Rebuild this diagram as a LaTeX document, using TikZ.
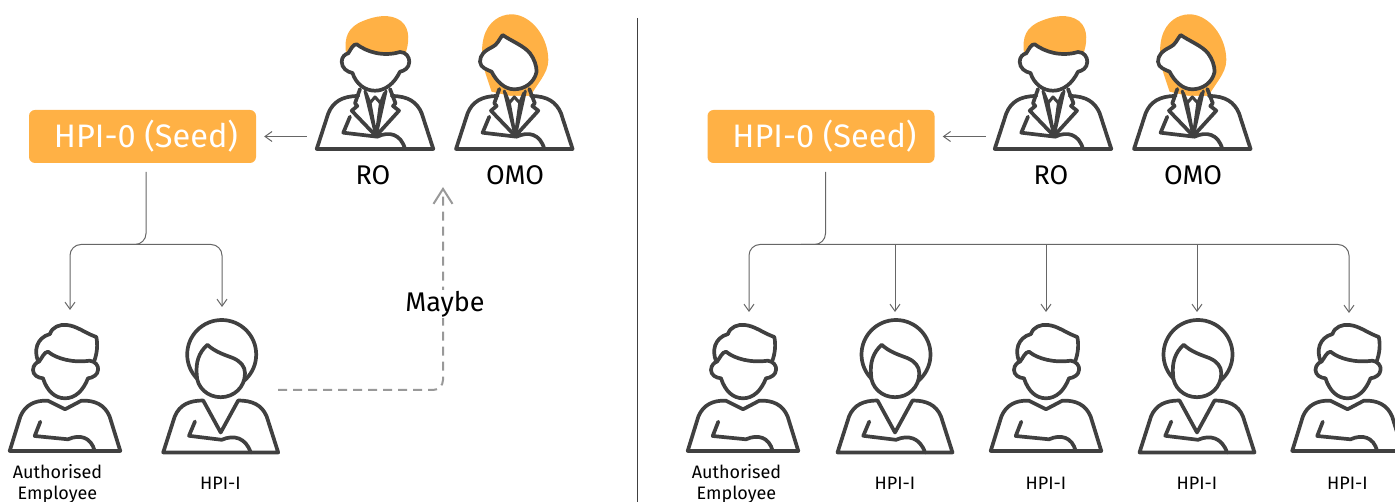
\documentclass[tikz,border=0pt]{standalone}
\usepackage{fontspec}
\setmainfont{Fira Sans}
\usetikzlibrary{arrows.meta}
\definecolor{seedorange}{HTML}{FFB145}
\definecolor{inkgrey}{HTML}{404040}
\definecolor{wiregrey}{HTML}{666666}
\definecolor{maybegrey}{HTML}{999999}
\tikzstyle{seedbox}=[fill=seedorange, rounded corners=6pt, text=white, minimum width=227pt, minimum height=53pt, inner sep=0pt, font=\fontsize{32.5}{34}\selectfont]
\tikzstyle{person}=[anchor=south, minimum width=110pt, minimum height=126pt, inner sep=0pt]
\tikzstyle{biglabel}=[font=\fontsize{27}{29}\selectfont]
\tikzstyle{smalllabel}=[font=\fontsize{18}{21}\selectfont, align=center]
\tikzstyle{wire}=[wiregrey, line width=1pt, rounded corners=11pt]
\tikzstyle{wirearrow}=[wire, -{Straight Barb[length=7pt, width=10pt]}]
\tikzstyle{maybearrow}=[maybegrey, line width=2pt, rounded corners=10pt, dash pattern=on 9pt off 6pt, -{Straight Barb[length=15pt, width=19pt]}]
\tikzstyle{outline}=[inkgrey, line width=3.7pt, line join=round, line cap=round]
\tikzset{
  plainbody/.pic={
    \draw[outline, fill=white] (-55.3,0) -- (-44.7,-34.3) .. controls (-40,-46) and (-30,-51) .. (-17,-50.3) -- (0,-41.7) -- (16.3,-50.3) .. controls (30,-51) and (40,-46) .. (44.7,-34.3) -- (55.3,0) -- cycle;
    \draw[outline] (-24.7,-29.3) -- (-30.3,-15) -- (3,-11.7) .. controls (15,-17) and (26,-14) .. (29.7,0);
  },
  vneckbody/.pic={
    \draw[outline, fill=white] (-57.5,0) -- (-46,-36) .. controls (-41,-48) and (-31,-52) .. (-17.5,-52) -- (0,-20) -- (17.5,-52) .. controls (31,-52) and (41,-48) .. (46,-36) -- (57.5,0) -- cycle;
    \draw[outline] (-25.7,-31) -- (-31.7,-16.7) -- (1,-12.7) .. controls (13,-18) and (25,-15) .. (30,0);
  },
  suitbody/.pic={
    \draw[outline, fill=white] (-16.7,-53) .. controls (-33,-53) and (-42,-47) .. (-46.7,-35.7) -- (-58.3,0) -- (58.3,0) -- (46.7,-35.7) .. controls (42,-47) and (33,-53) .. (16.7,-53);
    \draw[outline] (-15,-60) -- (-20,-45.7) -- (-17.7,-43) -- (-23.3,-38.3) -- (1,-13) -- (24,-38.3) -- (18,-43) -- (20.5,-45.7) -- (15,-60);
    \draw[outline, line width=3pt] (-10,-58) -- (1,-13) -- (11,-58);
    \draw[outline, line width=3pt] (-9,-56) -- (-5,-46) -- (0,-52) -- (5.5,-46) -- (9.5,-56);
    \draw[outline, line width=3pt] (-5,-46) -- (1,-13) -- (5.5,-46);
    \draw[outline] (-25,-32.3) -- (-31.7,-16.3) -- (2.3,-12.3) .. controls (14,-18) and (26,-15) .. (30,0);
  },
  shorthead/.pic={
    \filldraw[outline, fill=white] (-27,-90) .. controls (-31,-100) and (-29,-113) .. (-15,-117) .. controls (-13,-124) and (-5,-127) .. (2,-126) .. controls (12,-125) and (20,-118) .. (31.3,-114) .. controls (33,-106) and (32,-97) .. (29,-89.3);
    \filldraw[outline, fill=white] (-17,-99.3) .. controls (-8,-92) and (8,-88) .. (24.7,-90.3) .. controls (30,-90) and (34,-85) .. (33,-81) .. controls (33,-76) and (27,-73) .. (23,-72.7) .. controls (18,-60) and (10,-52.7) .. (0,-52.7) .. controls (-10,-52.7) and (-18,-60) .. (-22,-72.7) .. controls (-27,-73) and (-32,-76) .. (-32,-81) .. controls (-32,-86) and (-28,-89) .. (-26,-89.3) .. controls (-23,-93) and (-21,-99) .. (-17,-99.3) -- cycle;
  },
  roundhead/.pic={
    \filldraw[outline, fill=white] (1,-98) circle (34.5);
    \filldraw[outline, fill=white] (-13.3,-107.7) .. controls (-5,-100) and (6,-97) .. (12.7,-94.3) .. controls (20,-91) and (24.3,-86) .. (24.3,-79.3) .. controls (24.3,-65) and (13,-55.3) .. (0,-55.3) .. controls (-13,-55.3) and (-24,-65) .. (-24,-78) .. controls (-25,-90) and (-22,-100) .. (-13.3,-107.7) -- cycle;
  },
  orangeman/.pic={
    \fill[seedorange] (-29,-96) .. controls (-31,-112) and (-27,-122) .. (-12,-128) .. controls (0,-133) and (15,-136) .. (26,-128) .. controls (36,-120) and (34,-105) .. (30,-94) -- cycle;
    \pic {suitbody};
    \filldraw[outline, fill=white] (-18.3,-104.7) .. controls (-8,-97) and (8,-92) .. (25,-97) .. controls (31,-97) and (34.3,-92) .. (34.3,-87.3) .. controls (34.3,-81) and (29,-78) .. (25,-77.3) .. controls (19,-65) and (10,-58.3) .. (0,-58.3) .. controls (-10,-58.3) and (-19,-65) .. (-22.5,-76) .. controls (-28,-77) and (-33.3,-81) .. (-33.3,-87.3) .. controls (-33.3,-92) and (-30,-95) .. (-26.7,-95.7) .. controls (-24,-100) and (-22,-105) .. (-18.3,-104.7) -- cycle;
  },
  orangewoman/.pic={
    \fill[seedorange] (-22.7,-57.3) -- (-27.7,-72.3) .. controls (-34,-90) and (-34,-110) .. (-26,-122) .. controls (-18,-134) and (-5,-136) .. (3,-134) .. controls (20,-130) and (34,-110) .. (34,-89) .. controls (34,-75) and (22,-65) .. (14,-49) -- cycle;
    \pic {suitbody};
    \filldraw[outline, fill=white] (-11.7,-114) .. controls (-3,-108) and (10,-103) .. (15.7,-95.7) .. controls (20,-90) and (22.3,-83) .. (22.3,-77.3) .. controls (20,-66) and (10,-59.7) .. (0,-59.7) .. controls (-10,-59.7) and (-18,-68) .. (-22.7,-77.3) .. controls (-26,-79) and (-34.3,-81) .. (-34.3,-87.3) .. controls (-34.3,-94) and (-30,-98) .. (-22,-102) .. controls (-17,-104) and (-15,-110) .. (-11.7,-114) -- cycle;
  },
  manfig/.pic={\pic {plainbody}; \pic {shorthead};},
  womanfig/.pic={\pic {vneckbody}; \pic {roundhead};}
}

\begin{document}
\begin{tikzpicture}[x=1pt, y=-1pt]
\useasboundingbox (0,0) rectangle (1395,502);
% Divider
    \coordinate (divtop) at (637,18);
    \coordinate (divbot) at (637,502);
    \draw[inkgrey, line width=1pt] (divtop) -- (divbot);
% Seed boxes
    \node[seedbox] (seedL) at (142.5,136.5) {\hspace*{7pt}HPI-0 (Seed)};
    \node[seedbox] (seedR) at (821,136.5) {\hspace*{7pt}HPI-0 (Seed)};
% People, left
    \node[person] (roL) at (375,149) {};
    \node[person] (omoL) at (514.3,149) {};
    \node[person] (empL) at (65,451) {};
    \node[person] (hpiL) at (220.7,452.5) {};
    \pic at (roL.south) {orangeman};
    \pic at (omoL.south) {orangewoman};
    \pic at (empL.south) {manfig};
    \pic at (hpiL.south) {womanfig};
% People, right
    \node[person] (roR) at (1053,149) {};
    \node[person] (omoR) at (1192.3,149) {};
    \node[person] (empR) at (743,451) {};
    \node[person] (hpiA) at (895,452.5) {};
    \node[person] (hpiB) at (1046,451) {};
    \node[person] (hpiC) at (1197,452.5) {};
    \node[person] (hpiD) at (1347.5,451) {};
    \pic at (roR.south) {orangeman};
    \pic at (omoR.south) {orangewoman};
    \pic at (empR.south) {manfig};
    \pic at (hpiA.south) {womanfig};
    \pic at (hpiB.south) {manfig};
    \pic at (hpiC.south) {womanfig};
    \pic at (hpiD.south) {manfig};
% Labels
    \node[biglabel] (roLtext) at (373,175) {RO};
    \node[biglabel] (omoLtext) at (515,175) {OMO};
    \node[biglabel] (roRtext) at (1051,175) {RO};
    \node[biglabel] (omoRtext) at (1193,175) {OMO};
    \node[smalllabel] (empLtext) at (57.5,484) {Authorised\\Employee};
    \node[smalllabel] (hpiLtext) at (220.5,483.5) {HPI-I};
    \node[smalllabel] (empRtext) at (736.5,484) {Authorised\\Employee};
    \node[smalllabel] (hpiAtext) at (895,483.5) {HPI-I};
    \node[smalllabel] (hpiBtext) at (1046,483.5) {HPI-I};
    \node[smalllabel] (hpiCtext) at (1197,483.5) {HPI-I};
    \node[smalllabel] (hpiDtext) at (1347.5,483.5) {HPI-I};
% Owner to seed
    \draw[wirearrow, shorten <=13pt, shorten >=8pt] (roL.west |- seedL.east) -- (seedL.east);
    \draw[wirearrow, shorten <=12pt, shorten >=8pt] (roR.west |- seedR.east) -- (seedR.east);
% Left tree
    \coordinate (outL) at (146,172);
    \coordinate (joinL) at (120,244.5);
    \coordinate (busL) at (146,244.5);
    \draw[wire] (outL) -- (busL) -- (joinL);
    \draw[wirearrow] (joinL) -- (70,244.5) -- (70,310);
    \draw[wirearrow] (joinL) -- (222,244.5) -- (222,307);
% Right tree
    \coordinate (outR) at (825.5,172);
    \coordinate (joinR) at (801,244.5);
    \coordinate (busR) at (825.5,244.5);
    \draw[wire] (outR) -- (busR) -- (joinR);
    \draw[wirearrow] (joinR) -- (749,244.5) -- (749,312);
    \draw[wirearrow] (joinR) -- (1349,244.5) -- (1349,313);
    \draw[wirearrow] (895,244.5) -- (895,312);
    \draw[wirearrow] (1046,244.5) -- (1046,312);
    \draw[wirearrow] (1197,244.5) -- (1197,312);
% Maybe path
    \coordinate (maybestart) at (278,390);
    \coordinate (maybecorner) at (443,390);
    \coordinate (maybeend) at (443,187);
    \draw[maybearrow] (maybestart) -- (maybecorner) -- (maybeend);
    \node[biglabel, fill=white, inner sep=1pt] (maybetext) at (445,304.5) {Maybe};
\end{tikzpicture}
\end{document}
